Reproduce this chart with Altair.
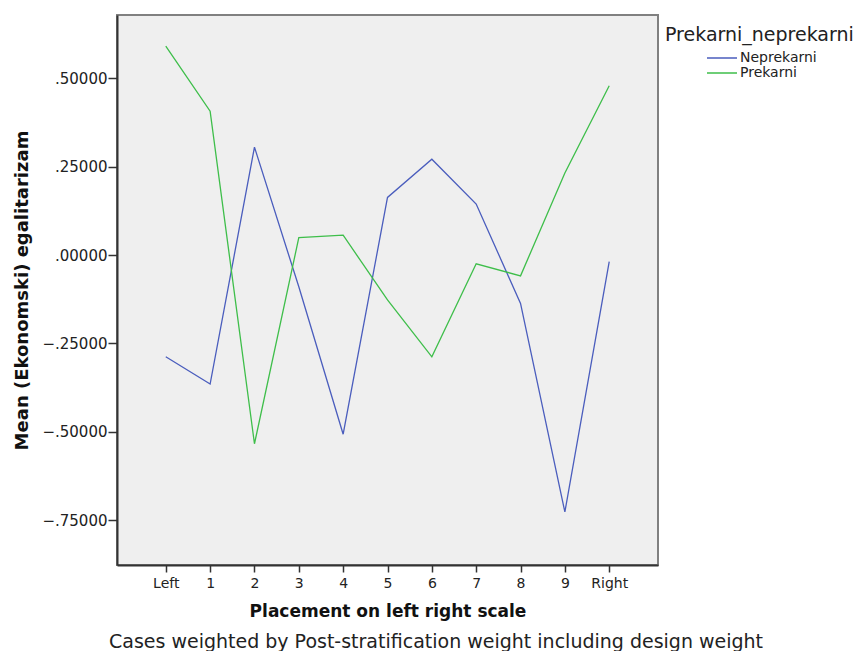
import altair as alt
import pandas as pd

positions = [0, 1, 2, 3, 4, 5, 6, 7, 8, 9, 10]
neprekarni = [-0.288, -0.365, 0.305, -0.09, -0.507, 0.163, 0.271, 0.144, -0.137, -0.727, -0.019]
prekarni = [0.591, 0.407, -0.534, 0.049, 0.056, -0.127, -0.288, -0.025, -0.059, 0.232, 0.479]
series_names = ["Neprekarni", "Prekarni"]
series_colors = ["#4A5DBD", "#3EBE4A"]
y_ticks = [-0.75, -0.5, -0.25, 0.0, 0.25, 0.5]
footer = "Cases weighted by Post-stratification weight including design weight"

rows = []
for name, vals in zip(series_names, [neprekarni, prekarni]):
    for p, v in zip(positions, vals):
        rows.append({"pos": p, "val": v, "grp": name})
df = pd.DataFrame(rows)

FONT = "DejaVu Sans"

lines = alt.Chart(df).mark_line(strokeWidth=1.3).encode(
    x=alt.X("pos:Q",
            scale=alt.Scale(domain=[-1.1, 11.1], nice=False, zero=False),
            axis=alt.Axis(values=positions, grid=False,
                          labelExpr="datum.value == 0 ? 'Left' : datum.value == 10 ? 'Right' : datum.value",
                          title="Placement on left right scale",
                          titleFontSize=17, titleFontWeight="bold", titlePadding=13,
                          labelFontSize=14, labelPadding=4, tickSize=7, tickWidth=1.5,
                          domainColor="#333333", domainWidth=2, tickColor="#333333",
                          labelColor="#222222", titleColor="#111111", labelFlush=False)),
    y=alt.Y("val:Q",
            scale=alt.Scale(domain=[-0.877, 0.679], nice=False, zero=False),
            axis=alt.Axis(values=y_ticks, grid=False,
                          labelExpr="replace(format(datum.value, '.5f'), '0.', '.')",
                          title="Mean (Ekonomski) egalitarizam",
                          titleFontSize=18, titleFontWeight="bold", titlePadding=10,
                          labelFontSize=15, labelPadding=1, tickSize=9, tickWidth=1.5,
                          domainColor="#333333", domainWidth=2, tickColor="#333333",
                          labelColor="#222222", titleColor="#111111")),
    color=alt.Color("grp:N",
                    scale=alt.Scale(domain=series_names, range=series_colors),
                    legend=alt.Legend(title="Prekarni_neprekarni", orient="none",
                                      legendX=548, legendY=11,
                                      titleFontSize=19, titleFontWeight="normal",
                                      titleColor="#222222", titlePadding=6, titleLimit=400,
                                      labelFontSize=14, labelColor="#222222",
                                      symbolType="stroke", symbolSize=900,
                                      symbolStrokeWidth=1.3, symbolOffset=41,
                                      clipHeight=14,
                                      rowPadding=1, labelOffset=2)),
)

foot = alt.Chart(pd.DataFrame({"t": [footer]})).mark_text(
    fontSize=19, font=FONT, color="#222222", align="center", baseline="alphabetic"
).encode(x=alt.value(319), y=alt.value(633), text="t:N")

chart = alt.layer(lines, foot).properties(
    width=541, height=550,
    autosize=alt.AutoSizeParams(type="none"),
    padding={"left": 109, "top": 7, "right": 200, "bottom": 86},
).configure(font=FONT).configure_view(
    fill="#EFEFEF", stroke="#808080", strokeWidth=2
)

chart.save("out.html", embed_options={"renderer": "svg", "actions": False})
